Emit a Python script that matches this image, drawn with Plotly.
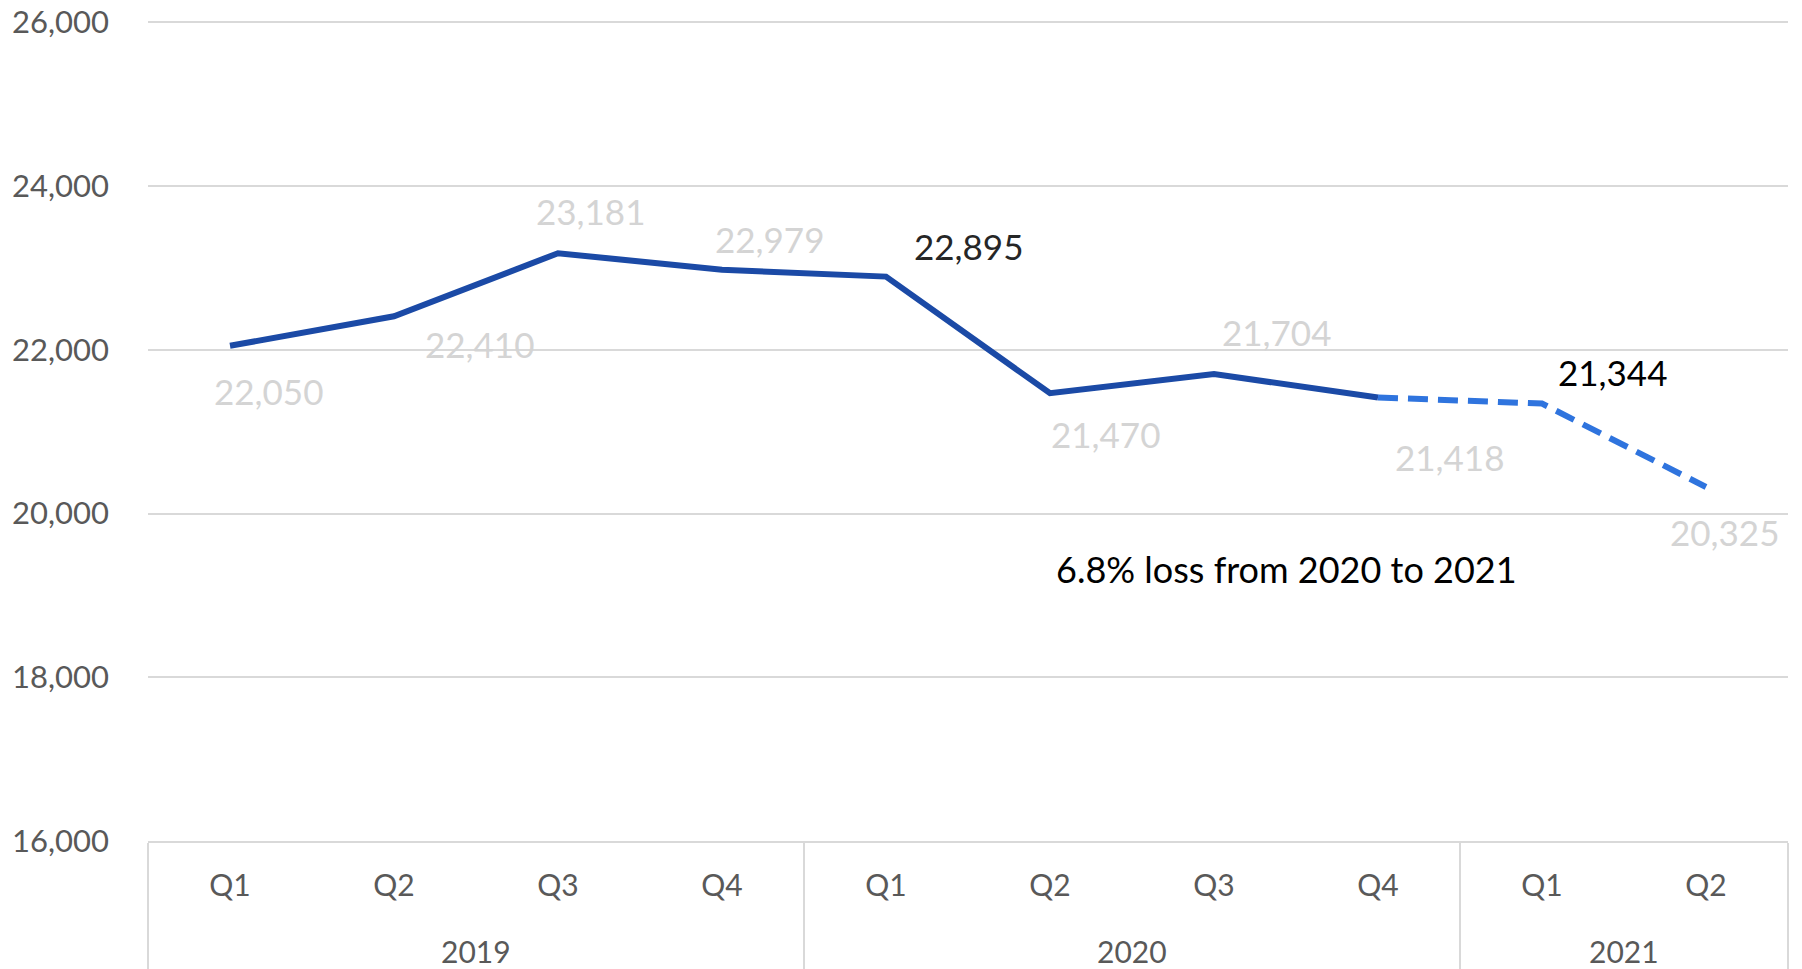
import plotly.graph_objects as go

# Quarterly values
years = ["2019", "2019", "2019", "2019", "2020", "2020", "2020", "2020", "2021", "2021"]
quarters = ["Q1", "Q2", "Q3", "Q4", "Q1", "Q2", "Q3", "Q4", "Q1", "Q2"]
values = [22050, 22410, 23181, 22979, 22895, 21470, 21704, 21418, 21344, 20325]

year_groups = ["2019", "2020", "2021"]
y_ticks = [16000, 18000, 20000, 22000, 24000, 26000]

# label placement offsets (px) relative to each point, and colours
label_dx = [38, 85, 32, 47, 82, 55, 62, 71, 70, 18]
label_dy = [-45, -28, 42, 31, 31, -41, 42, -59, 32, -45]
label_color = ["#d4d4d4"] * 10
label_color[4] = "#262626"
label_color[8] = "#000000"

idx = list(range(len(values)))
split = 7  # last actual quarter; later points are projected

FONT = "Lato"
SOLID = "#1b4aa6"
DASH = "#2f74de"
GRID = "#d9d9d9"

fig = go.Figure()
fig.add_trace(go.Scatter(
    x=idx[:split + 1], y=values[:split + 1], mode="lines",
    line=dict(color=SOLID, width=6), hoverinfo="skip", showlegend=False))
fig.add_trace(go.Scatter(
    x=idx[split:], y=values[split:], mode="lines",
    line=dict(color=DASH, width=6, dash="20px,10px"), hoverinfo="skip", showlegend=False))

for i, v in enumerate(values):
    fig.add_annotation(
        x=i, y=v, text=f"{v:,}", showarrow=False,
        xshift=label_dx[i], yshift=label_dy[i],
        font=dict(family=FONT, size=35, color=label_color[i]))

# group labels under the quarter ticks
group_centres = {}
for i, yr in enumerate(years):
    group_centres.setdefault(yr, []).append(i)
for yr in year_groups:
    members = group_centres[yr]
    fig.add_annotation(
        x=(members[0] + members[-1]) / 2, y=0, yref="paper", yanchor="middle",
        yshift=-110, text=yr, showarrow=False,
        font=dict(family=FONT, size=30, color="#595959"))

# group dividers at the boundaries between years
dividers = [-0.5]
for i in range(1, len(years)):
    if years[i] != years[i - 1]:
        dividers.append(i - 0.5)
dividers.append(len(years) - 0.5)

fig.add_annotation(
    x=6.5, y=20000, text="6.8% loss from 2020 to 2021", showarrow=False,
    yshift=-55, xshift=-10, font=dict(family=FONT, size=36, color="#000000"))

fig.update_xaxes(
    range=[-0.5, len(values) - 0.5], automargin=False,
    tickmode="array", tickvals=idx, ticktext=quarters,
    ticks="", ticklabelstandoff=17,
    tickfont=dict(family=FONT, size=30, color="#595959"),
    showgrid=False, zeroline=False,
    showline=True, linecolor=GRID, linewidth=2,
    minor=dict(tickmode="array", tickvals=dividers, ticks="outside",
               ticklen=130, tickwidth=2, tickcolor=GRID, showgrid=False),
)
fig.update_yaxes(
    range=[16000, 26030], automargin=False,
    tickmode="array", tickvals=y_ticks,
    tickformat=",", ticks="", ticklabelstandoff=38,
    tickfont=dict(family=FONT, size=31, color="#595959"),
    showgrid=True, gridcolor=GRID, gridwidth=2, zeroline=False, showline=False,
)
fig.update_layout(
    width=1802, height=969,
    margin=dict(l=148, r=14, t=20, b=128),
    paper_bgcolor="white", plot_bgcolor="white",
    showlegend=False,
)
fig.write_html("out.html")
